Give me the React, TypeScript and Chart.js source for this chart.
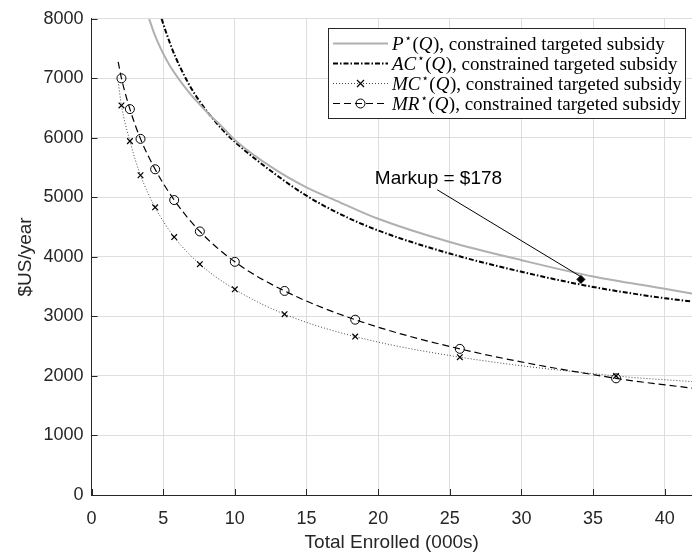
import { useEffect, useRef } from "react";
import { Chart, registerables } from "chart.js";

Chart.register(...registerables);

// ---- data ----
const P_Q = [4.02, 4.42, 5.0, 5.46, 6.16, 6.86, 7.56, 8.26, 9.09, 10, 12.67, 15, 17.33, 20, 25, 30, 35, 40, 41.9];
const P_VAL = [8000, 7725, 7417, 7215, 6965, 6748, 6557, 6382, 6192, 5965, 5490, 5167, 4917, 4640, 4250, 3945, 3670, 3465, 3385];

const AC_Q = [4.89, 5.19, 5.67, 6.16, 6.86, 7.56, 8.26, 9.09, 10, 12.67, 15, 17.33, 20, 25, 30, 35, 40, 41.9];
const AC_VAL = [8000, 7783, 7467, 7200, 6875, 6608, 6383, 6150, 5933, 5417, 5028, 4722, 4444, 4056, 3750, 3495, 3306, 3250];

// first and last points are curve ends (no marker); the others carry markers
const MC_Q = [1.86, 2.09, 2.68, 3.42, 4.44, 5.77, 7.56, 10.0, 13.47, 18.4, 25.7, 36.6, 41.9];
const MC_VAL = [6945, 6545, 5945, 5372, 4833, 4333, 3878, 3455, 3038, 2661, 2316, 2000, 1905];

const MR_Q = [1.86, 2.09, 2.68, 3.42, 4.44, 5.77, 7.56, 10.0, 13.47, 18.4, 25.7, 36.6, 41.9];
const MR_VAL = [7278, 7000, 6483, 5983, 5472, 4955, 4428, 3917, 3428, 2945, 2455, 1960, 1795];

const MARKUP_LABEL = "Markup = $178";
const MARKUP_TEXT_Q = 19.77;
const MARKUP_TEXT_Y = 5305;
const ARROW_Q = [24.12, 34.15];
const ARROW_Y = [5128, 3667];
const MARKUP_POINT_Q = [34.15];
const MARKUP_POINT_Y = [3622];

const LEGEND_NAMES = ["P", "AC", "MC", "MR"];
const LEGEND_SUFFIX = ", constrained targeted subsidy";

const X_MIN = 0;
const X_MAX = 41.9;
const X_STEP = 5;
const Y_MIN = 0;
const Y_MAX = 8000;
const Y_STEP = 1000;

const X_TITLE = "Total Enrolled (000s)";
const Y_TITLE = "$US/year";

const pts = (xs: number[], ys: number[]) => xs.map((x, i) => ({ x, y: ys[i] }));

const AXIS_COLOR = "#262626";
const SANS = '"Liberation Sans", Arial, Helvetica, sans-serif';
const SERIF = '"Liberation Serif", "Times New Roman", serif';

const P_STYLE = { color: "#b0b0b0", width: 2, dash: [] as number[] };
const AC_STYLE = { color: "#000000", width: 2, dash: [5, 2, 1.5, 2] };
const MC_STYLE = { color: "#333333", width: 0.9, dash: [1, 2] };
const MR_STYLE = { color: "#000000", width: 1.2, dash: [7, 4] };

function drawCircle(ctx: CanvasRenderingContext2D, x: number, y: number, r: number) {
  ctx.save();
  ctx.setLineDash([]);
  ctx.strokeStyle = "#000";
  ctx.lineWidth = 1;
  ctx.beginPath();
  ctx.arc(x, y, r, 0, Math.PI * 2);
  ctx.stroke();
  ctx.restore();
}
function drawCross(ctx: CanvasRenderingContext2D, x: number, y: number, r: number) {
  ctx.save();
  ctx.setLineDash([]);
  ctx.strokeStyle = "#000";
  ctx.lineWidth = 1.2;
  ctx.beginPath();
  ctx.moveTo(x - r, y - r);
  ctx.lineTo(x + r, y + r);
  ctx.moveTo(x - r, y + r);
  ctx.lineTo(x + r, y - r);
  ctx.stroke();
  ctx.restore();
}

function drawLegendLabel(ctx: CanvasRenderingContext2D, x: number, yMid: number, name: string) {
  const fs = 19;
  const base = yMid + fs * 0.33;
  let cx = x;
  ctx.fillStyle = "#000";
  ctx.textBaseline = "alphabetic";
  ctx.textAlign = "left";
  ctx.font = `italic ${fs}px ${SERIF}`;
  ctx.fillText(name, cx, base);
  cx += ctx.measureText(name).width + 1;
  ctx.font = `${fs * 0.62}px "DejaVu Sans", ${SERIF}`;
  ctx.fillText("⋆", cx, base - fs * 0.4);
  cx += ctx.measureText("⋆").width + 0.5;
  ctx.font = `${fs}px ${SERIF}`;
  ctx.fillText("(", cx, base);
  cx += ctx.measureText("(").width;
  ctx.font = `italic ${fs}px ${SERIF}`;
  ctx.fillText("Q", cx, base);
  cx += ctx.measureText("Q").width + 0.5;
  ctx.font = `${fs}px ${SERIF}`;
  ctx.fillText(")", cx, base);
  cx += ctx.measureText(")").width;
  ctx.fillText(LEGEND_SUFFIX, cx, base);
}

const decorPlugin = {
  id: "decor",
  afterDraw(chart: any) {
    const { ctx, chartArea, scales } = chart;
    const xs = scales.x;
    const ys = scales.y;
    ctx.save();
    // inward tick marks
    ctx.strokeStyle = AXIS_COLOR;
    ctx.lineWidth = 1;
    ctx.setLineDash([]);
    for (const t of xs.ticks) {
      const px = Math.round(xs.getPixelForValue(t.value)) + 0.5;
      ctx.beginPath();
      ctx.moveTo(px, chartArea.bottom);
      ctx.lineTo(px, chartArea.bottom - 6);
      ctx.stroke();
    }
    for (const t of ys.ticks) {
      const py = Math.round(ys.getPixelForValue(t.value)) + 0.5;
      ctx.beginPath();
      ctx.moveTo(chartArea.left, py);
      ctx.lineTo(chartArea.left + 6, py);
      ctx.stroke();
    }

    // annotation text
    ctx.font = `19px ${SANS}`;
    ctx.fillStyle = "#000";
    ctx.textAlign = "left";
    ctx.textBaseline = "middle";
    ctx.fillText(MARKUP_LABEL, xs.getPixelForValue(MARKUP_TEXT_Q), ys.getPixelForValue(MARKUP_TEXT_Y));

    // legend
    const bx = 328.5;
    const by = 28.5;
    const bw = 357;
    const bh = 90;
    ctx.fillStyle = "#fff";
    ctx.fillRect(bx, by, bw, bh);
    ctx.strokeStyle = AXIS_COLOR;
    ctx.lineWidth = 1;
    ctx.strokeRect(bx, by, bw, bh);
    const styles = [P_STYLE, AC_STYLE, MC_STYLE, MR_STYLE];
    LEGEND_NAMES.forEach((name, i) => {
      const yMid = 43.5 + i * 20;
      const st = styles[i];
      ctx.save();
      ctx.strokeStyle = st.color;
      ctx.lineWidth = st.width;
      ctx.setLineDash(st.dash);
      ctx.beginPath();
      ctx.moveTo(333, yMid);
      ctx.lineTo(388, yMid);
      ctx.stroke();
      ctx.restore();
      if (i === 2) drawCross(ctx, 360.5, yMid, 3.5);
      if (i === 3) drawCircle(ctx, 360.5, yMid, 4.5);
      drawLegendLabel(ctx, 392, yMid, name);
    });
    ctx.restore();
  },
};

export default function App() {
  const ref = useRef<HTMLCanvasElement | null>(null);
  useEffect(() => {
    if (!ref.current) return;
    const markerRadius = (n: number, r: number) => (c: any) =>
      c.dataIndex === 0 || c.dataIndex === n - 1 ? 0 : r;
    const chart = new Chart(ref.current, {
      type: "scatter",
      data: {
        datasets: [
          {
            label: "markupPoint",
            data: pts(MARKUP_POINT_Q, MARKUP_POINT_Y),
            showLine: false,
            pointStyle: "rectRot",
            pointRadius: 4,
            backgroundColor: "#000",
            borderColor: "#000",
          },
          {
            label: "arrow",
            data: pts(ARROW_Q, ARROW_Y),
            showLine: true,
            borderColor: "#000",
            borderWidth: 1,
            pointRadius: 0,
          },
          {
            label: "P",
            data: pts(P_Q, P_VAL),
            showLine: true,
            borderColor: P_STYLE.color,
            borderWidth: P_STYLE.width,
            pointRadius: 0,
            cubicInterpolationMode: "monotone",
          },
          {
            label: "AC",
            data: pts(AC_Q, AC_VAL),
            showLine: true,
            borderColor: AC_STYLE.color,
            borderWidth: AC_STYLE.width,
            borderDash: AC_STYLE.dash,
            pointRadius: 0,
            cubicInterpolationMode: "monotone",
          },
          {
            label: "MC",
            data: pts(MC_Q, MC_VAL),
            showLine: true,
            borderColor: MC_STYLE.color,
            borderWidth: MC_STYLE.width,
            borderDash: MC_STYLE.dash,
            pointStyle: "crossRot",
            pointRadius: markerRadius(MC_Q.length, 4),
            pointBorderColor: "#000",
            pointBorderWidth: 1.2,
            cubicInterpolationMode: "monotone",
          },
          {
            label: "MR",
            data: pts(MR_Q, MR_VAL),
            showLine: true,
            borderColor: MR_STYLE.color,
            borderWidth: MR_STYLE.width,
            borderDash: MR_STYLE.dash,
            pointStyle: "circle",
            pointRadius: markerRadius(MR_Q.length, 4.5),
            pointBackgroundColor: "rgba(0,0,0,0)",
            pointBorderColor: "#000",
            pointBorderWidth: 1,
            cubicInterpolationMode: "monotone",
          },
        ],
      },
      options: {
        animation: false,
        responsive: false,
        maintainAspectRatio: false,
        events: [],
        layout: { autoPadding: false, padding: { top: 15, right: 0, bottom: 0, left: 0 } },
        plugins: {
          legend: { display: false },
          tooltip: { enabled: false },
        },
        scales: {
          x: {
            type: "linear",
            min: X_MIN,
            max: X_MAX,
            afterFit: (s: any) => {
              s.height = 60;
            },
            ticks: {
              stepSize: X_STEP,
              includeBounds: false,
              color: AXIS_COLOR,
              padding: 13,
              font: { family: SANS, size: 18 },
              maxRotation: 0,
              callback: (v: any) => String(v),
            },
            grid: { color: "#dedede", lineWidth: 1, drawTicks: false },
            border: { color: AXIS_COLOR, width: 1 },
            title: {
              display: true,
              text: X_TITLE,
              color: AXIS_COLOR,
              font: { family: SANS, size: 19 },
              padding: { top: 0, bottom: 0.6 },
            },
          },
          y: {
            type: "linear",
            min: Y_MIN,
            max: Y_MAX,
            afterFit: (s: any) => {
              s.width = 91.5;
            },
            ticks: {
              stepSize: Y_STEP,
              color: AXIS_COLOR,
              padding: 8,
              font: { family: SANS, size: 18 },
              callback: (v: any) => String(v),
            },
            grid: { color: "#dedede", lineWidth: 1, drawTicks: false },
            border: { color: AXIS_COLOR, width: 1 },
            title: {
              display: true,
              text: Y_TITLE,
              color: AXIS_COLOR,
              font: { family: SANS, size: 19 },
              padding: { top: 14, bottom: 0 },
            },
          },
        },
      },
      plugins: [decorPlugin],
    });
    return () => chart.destroy();
  }, []);
  return (
    <div style={{ position: "absolute", left: 0, top: 0, width: 692, height: 555, background: "#fff" }}>
      <canvas ref={ref} width={692} height={555} style={{ display: "block", width: 692, height: 555 }} />
    </div>
  );
}
